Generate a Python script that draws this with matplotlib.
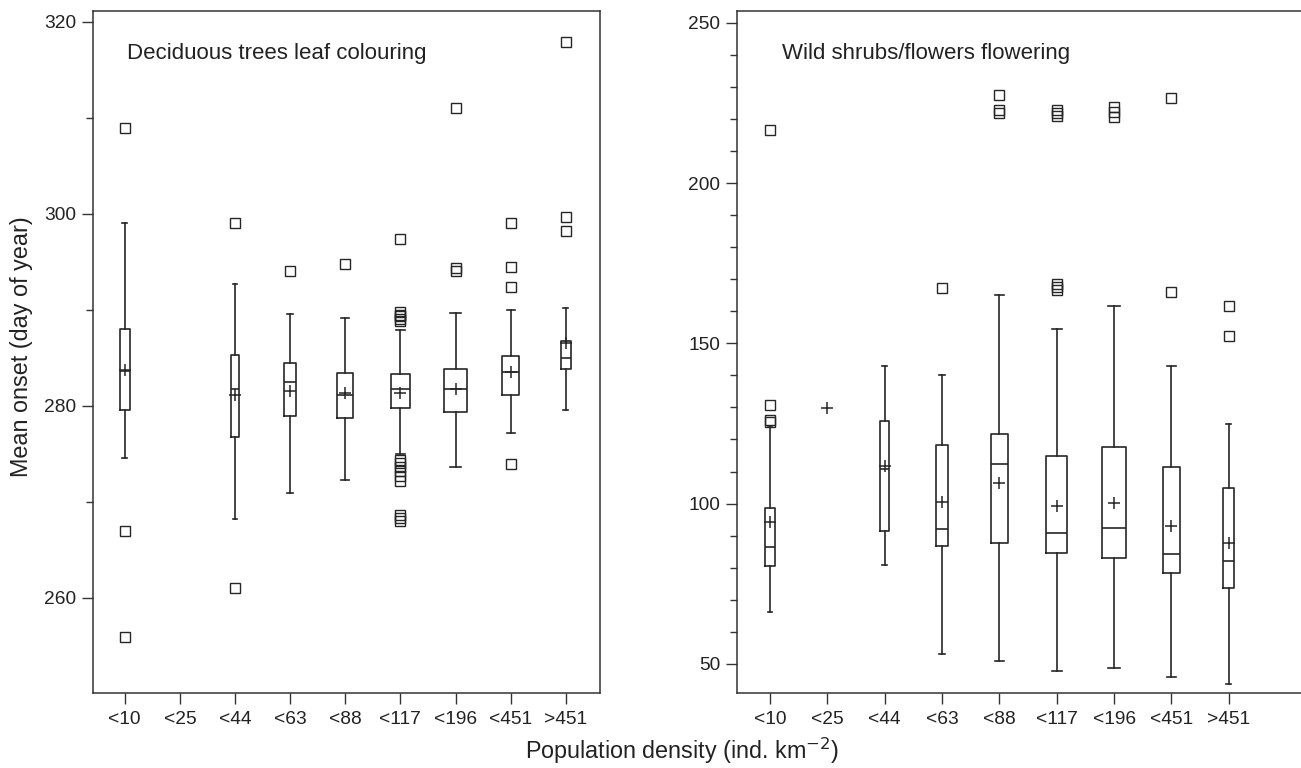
import matplotlib
matplotlib.use("Agg")
import matplotlib.pyplot as plt
from matplotlib.ticker import MultipleLocator

plt.rcParams['font.family'] = ['Liberation Sans', 'DejaVu Sans']

categories = ["<10", "<25", "<44", "<63", "<88", "<117", "<196", "<451", ">451"]

# ---- Left panel: Deciduous trees leaf colouring ----
left_q1     = [279.6, None, 276.8, 278.9, 278.7, 279.8, 279.4, 281.1, 283.8]
left_med    = [283.6, None, 281.7, 282.5, 281.15, 281.7, 281.7, 283.5, 285.0]
left_q3     = [288.0, None, 285.3, 284.5, 283.4, 283.3, 283.8, 285.2, 286.7]
left_wlo    = [274.55, None, 268.2, 270.9, 272.3, 275.0, 273.6, 277.2, 279.6]
left_whi    = [299.0, None, 292.7, 289.55, 289.1, 287.85, 289.65, 290.0, 290.2]
left_mean   = [283.7, None, 281.1, 281.5, 281.3, 281.3, 281.8, 283.5, 286.5]
left_fliers = [
    [308.9, 267.0, 255.9],
    [],
    [299.0, 261.0],
    [294.0],
    [294.8],
    [297.4, 289.8, 289.5, 289.3, 289.0, 288.8,
     274.4, 274.0, 273.6, 273.2, 272.7, 272.2, 268.6, 268.3, 268.0],
    [311.0, 294.3, 294.0],
    [299.0, 294.5, 292.4, 273.9],
    [317.9, 299.7, 298.2],
]

# ---- Right panel: Wild shrubs/flowers flowering ----
right_q1     = [80.5, 129.8, 91.5, 86.8, 87.6, 84.5, 83.1, 78.25, 73.75]
right_med    = [86.4, 129.8, 110.75, 92.2, 112.4, 90.9, 92.5, 84.4, 82.0]
right_q3     = [98.75, 129.8, 125.75, 118.25, 121.8, 114.9, 117.7, 111.4, 104.9]
right_wlo    = [66.2, 129.8, 80.75, 53.1, 50.85, 47.7, 48.65, 45.75, 43.75]
right_whi    = [124.3, 129.8, 142.9, 140.0, 165.0, 154.5, 161.8, 143.0, 124.7]
right_mean   = [94.3, 129.8, 111.7, 100.4, 106.4, 99.4, 100.3, 93.0, 87.6]
right_fliers = [
    [216.7, 130.8, 126.0, 125.5],
    [],
    [],
    [167.3],
    [227.5, 222.7, 222.0],
    [222.8, 221.8, 220.8, 168.5, 167.5, 166.7],
    [223.8, 222.3, 220.6],
    [226.6, 165.9],
    [161.6, 152.2],
]

# box widths (style, in category units)
left_widths = [0.18, 0.0, 0.16, 0.205, 0.285, 0.35, 0.43, 0.30, 0.17]
right_widths = [0.17, 0.17, 0.16, 0.20, 0.29, 0.36, 0.42, 0.30, 0.19]

LC = '#262626'
TXT = '#222222'
W = 1301
H = 768
fig = plt.figure(figsize=(W / 100, H / 100), dpi=100)

ax1 = fig.add_axes([93 / W, 75 / H, 507 / W, 682 / H])
ax2 = fig.add_axes([737 / W, 75 / H, 564 / W, 682 / H])


def draw(ax, q1, med, q3, wlo, whi, mean, fliers, widths):
    stats, pos, wid = [], [], []
    for i in range(len(categories)):
        if q1[i] is None:
            continue
        stats.append(dict(q1=q1[i], med=med[i], q3=q3[i], whislo=wlo[i],
                          whishi=whi[i], mean=mean[i], fliers=fliers[i],
                          label=categories[i]))
        pos.append(i + 1)
        wid.append(widths[i])
    single = [k for k, s in enumerate(stats) if s['q1'] == s['q3'] == s['whislo'] == s['whishi']]
    lw = 1.2
    b = ax.bxp(stats, positions=pos, widths=wid, capwidths=[w * 0.5 for w in wid],
               showmeans=True, showfliers=True, patch_artist=False,
               boxprops=dict(color=LC, linewidth=lw),
               medianprops=dict(color=LC, linewidth=lw),
               whiskerprops=dict(color=LC, linewidth=lw),
               capprops=dict(color=LC, linewidth=lw),
               meanprops=dict(marker='+', markeredgecolor=LC, markersize=9,
                              markeredgewidth=1.1, linestyle='none'),
               flierprops=dict(marker='s', markerfacecolor='none', markeredgecolor=LC,
                               markersize=7, markeredgewidth=1.0, linestyle='none'),
               manage_ticks=False)
    # single-value group: show only its mean marker
    for k in single:
        b['boxes'][k].set_visible(False)
        b['medians'][k].set_visible(False)
        for art in b['whiskers'][2 * k:2 * k + 2] + b['caps'][2 * k:2 * k + 2]:
            art.set_visible(False)


draw(ax1, left_q1, left_med, left_q3, left_wlo, left_whi, left_mean, left_fliers, left_widths)
draw(ax2, right_q1, right_med, right_q3, right_wlo, right_whi, right_mean, right_fliers, right_widths)

ax1.set_xlim(0.425, 9.62)
ax1.set_ylim(250.1, 321.1)
ax1.yaxis.set_major_locator(MultipleLocator(20))
ax1.yaxis.set_minor_locator(MultipleLocator(10))

ax2.set_xlim(0.424, 10.26)
ax2.set_ylim(40.9, 253.7)
ax2.yaxis.set_major_locator(MultipleLocator(50))
ax2.yaxis.set_minor_locator(MultipleLocator(10))
ax2.spines['right'].set_visible(False)

for ax in (ax1, ax2):
    ax.set_xticks(range(1, len(categories) + 1))
    ax.set_xticklabels(categories)
    for s in ax.spines.values():
        s.set_color('#333333')
        s.set_linewidth(1.1)
    ax.tick_params(axis='both', which='major', length=8, width=1.0, color='#333333',
                   labelsize=13.8, labelcolor=TXT, pad=4)
    ax.tick_params(axis='y', which='minor', length=5, width=1.0, color='#333333')
    ax.tick_params(axis='x', which='major', pad=5)

ax1.text(0.067, 0.938, "Deciduous trees leaf colouring", transform=ax1.transAxes,
         fontsize=16, color=TXT, va='center', ha='left')
ax2.text(0.0798, 0.938, "Wild shrubs/flowers flowering", transform=ax2.transAxes,
         fontsize=16, color=TXT, va='center', ha='left')

fig.text(22 / W, 1 - 347 / H, "Mean onset (day of year)", rotation=90,
         fontsize=16.8, color=TXT, va='center', ha='center')
fig.text(682 / W, 1 - 751 / H, "Population density (ind. km$^{-2}$)",
         fontsize=16.8, color=TXT, va='center', ha='center')

fig.savefig("out.png", dpi=100)
